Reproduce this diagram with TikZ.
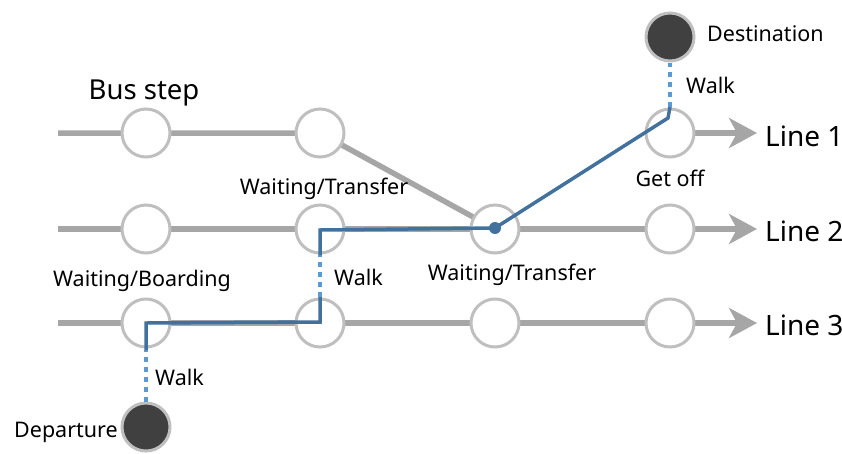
\documentclass[tikz,border=0pt]{standalone}
\usepackage{fontspec}
\setmainfont{Noto Sans}
\usetikzlibrary{arrows.meta}
\definecolor{railgray}{HTML}{A6A6A6}
\definecolor{ringgray}{HTML}{BFBFBF}
\definecolor{routeblue}{HTML}{41719C}
\definecolor{walkblue}{HTML}{5B9BD5}
\definecolor{endfill}{HTML}{404040}
\tikzset{
  rail/.style={draw=railgray, line width=5.5pt},
  railarrow/.style={rail, -{Stealth[length=28pt, width=30pt, inset=8pt]}},
  stop/.style={circle, draw=ringgray, fill=white, line width=3pt, minimum size=48pt, inner sep=0pt},
  terminal/.style={circle, draw=ringgray, fill=endfill, line width=3pt, minimum size=48pt, inner sep=0pt},
  route/.style={draw=routeblue, line width=3.5pt, line join=miter},
  walk/.style={draw=walkblue, line width=4.5pt, dash pattern=on 5pt off 5pt},
  lbl/.style={font=\fontsize{21.5}{24}\selectfont, inner sep=0pt},
  linelbl/.style={font=\fontsize{28}{32}\selectfont, inner sep=0pt, anchor=west},
}
\begin{document}
\begin{tikzpicture}[x=1pt, y=-1pt]
\useasboundingbox (0,0) rectangle (842,453);

% rail starts and arrow ends
\coordinate (s1) at (58,133);
\coordinate (s2) at (58,229);
\coordinate (s3) at (58,323);
\coordinate (e1) at (757,133);
\coordinate (e2) at (757,229);
\coordinate (e3) at (757,323);

% stop positions
\coordinate (p1a) at (146,133);
\coordinate (p1b) at (320,133);
\coordinate (p1d) at (670,133);
\coordinate (p2a) at (146,229);
\coordinate (p2b) at (320,229);
\coordinate (p2c) at (495,229);
\coordinate (p2d) at (670,229);
\coordinate (p3a) at (146,323);
\coordinate (p3b) at (320,323);
\coordinate (p3c) at (495,323);
\coordinate (p3d) at (670,323);

% rails
\draw[rail] (s1) -- (p1a) -- (p1b) -- (p2c);
\draw[railarrow] (p1d) -- (e1);
\draw[railarrow] (s2) -- (e2);
\draw[railarrow] (s3) -- (e3);

% stops
\foreach \n in {p1a,p1b,p1d,p2a,p2b,p2c,p2d,p3a,p3b,p3c,p3d}
  \node[stop] (\n n) at (\n) {};

% origin and destination
\node[terminal] (dep) at (146,427) {};
\node[terminal] (dest) at (670,37) {};

% route waypoints
\coordinate (r0) at (146,350);
\coordinate (r1) at (146,323);
\coordinate (r2) at (320,322);
\coordinate (r3) at (320,297);
\coordinate (r4) at (320,255);
\coordinate (r5) at (320,230);
\coordinate (r6) at (495,228);
\coordinate (r7) at (668,118);
\coordinate (r8) at (670,107);

% walking legs
\draw[walk] (dep.north) -- (r0);
\draw[walk] (r3) -- (r4);
\draw[walk] (r8) -- (dest.south);

% riding legs
\draw[route] (r0) -- (r1) -- (r2) -- (r3);
\draw[route] (r4) -- (r5) -- (r6) -- (r7) -- (r8);
\fill[routeblue] (r6) circle (6pt);

% labels
\node[lbl, font=\fontsize{27.5}{30}\selectfont] (busstep) at (144,93) {Bus step};
\node[lbl] (wt1) at (324,189) {Waiting/Transfer};
\node[lbl] (wb) at (142,281) {Waiting/Boarding};
\node[lbl] (wt2) at (512,275) {Waiting/Transfer};
\node[lbl] (getoff) at (670,178) {Get off};
\node[lbl, anchor=west] (walk1) at (155,377) {Walk};
\node[lbl, anchor=west] (walk2) at (334,277) {Walk};
\node[lbl, anchor=west] (walk3) at (686,85) {Walk};
\node[lbl, anchor=west] (destlbl) at (707,34) {Destination};
\node[lbl, anchor=east] (deplbl) at (118,432) {Departure};
\node[linelbl] (line1) at (765,136) {Line 1};
\node[linelbl] (line2) at (765,231) {Line 2};
\node[linelbl] (line3) at (765,325) {Line 3};
\end{tikzpicture}
\end{document}
